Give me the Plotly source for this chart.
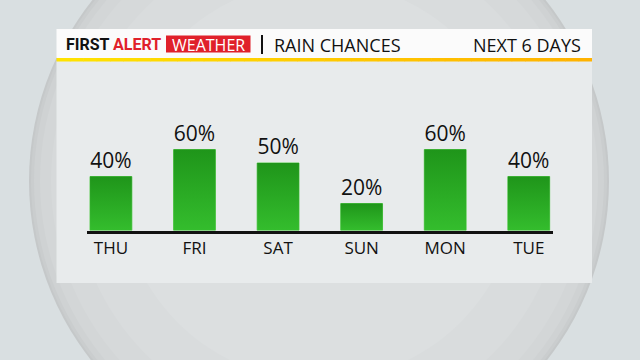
import plotly.graph_objects as go

# ---- data ----
days = ["THU", "FRI", "SAT", "SUN", "MON", "TUE"]
rain_chance = [40, 60, 50, 20, 60, 40]
labels = [f"{v}%" for v in rain_chance]
title_left = "RAIN CHANCES"
title_right = "NEXT 6 DAYS"

W, H = 640, 360
BAR_W = 0.5


def px(x):
    return x / W


def py(y):
    return 1 - y / H


shapes = []

# background sphere (layered circles for a soft edge shading)
cx, cy = 319, 181
for r, col in [(290, "#c5c8c9"), (288, "#cacdce"), (285, "#cfd2d3"),
               (279, "#d3d6d7"), (268, "#d6d9da"), (245, "#d9dcdd"), (200, "#dcdfe0")]:
    shapes.append(dict(type="circle", xref="paper", yref="paper",
                       x0=px(cx - r), x1=px(cx + r), y0=py(cy + r), y1=py(cy - r),
                       fillcolor=col, line=dict(width=0), layer="below"))

# panel body
shapes.append(dict(type="rect", xref="paper", yref="paper",
                   x0=px(56.5), x1=px(592), y0=py(283), y1=py(61),
                   fillcolor="#e8ebec", line=dict(width=0), layer="below"))
# header band
shapes.append(dict(type="rect", xref="paper", yref="paper",
                   x0=px(56.5), x1=px(592), y0=py(58), y1=py(29),
                   fillcolor="#fbfbfb", line=dict(width=0), layer="below"))
# yellow -> orange underline
n = 40
x_start, x_end = 56.5, 592
c0 = (255, 226, 0)
c1 = (255, 178, 0)
for i in range(n):
    t = i / (n - 1)
    col = "rgb(%d,%d,%d)" % tuple(round(a + (b - a) * t) for a, b in zip(c0, c1))
    xa = x_start + (x_end - x_start) * i / n
    xb = x_start + (x_end - x_start) * (i + 1) / n + 0.5
    shapes.append(dict(type="rect", xref="paper", yref="paper",
                       x0=px(xa), x1=px(min(xb, x_end)), y0=py(61.5), y1=py(58),
                       fillcolor=col, line=dict(width=0), layer="below"))
# red WEATHER box
shapes.append(dict(type="rect", xref="paper", yref="paper",
                   x0=px(166), x1=px(250.5), y0=py(52.5), y1=py(35.5),
                   fillcolor="#e0202a", line=dict(width=0), layer="below"))
# separator
shapes.append(dict(type="line", xref="paper", yref="paper",
                   x0=px(262), x1=px(262), y0=py(54), y1=py(35),
                   line=dict(color="#111111", width=2), layer="below"))

annotations = [
    dict(text="<b>FIRST <span style='color:#e0202a'>ALERT</span></b>",
         x=px(64), y=py(44.5), xref="paper", yref="paper", xanchor="left", yanchor="middle",
         showarrow=False, font=dict(family="Roboto", size=16, color="#111111")),
    dict(text="WEATHER", x=px(208.5), y=py(44.5), xref="paper", yref="paper",
         xanchor="center", yanchor="middle", showarrow=False,
         font=dict(family="Open Sans", size=16, color="#ffffff")),
    dict(text=title_left, x=px(272), y=py(45), xref="paper", yref="paper",
         xanchor="left", yanchor="middle", showarrow=False,
         font=dict(family="Open Sans", size=18, color="#111111")),
    dict(text=title_right, x=px(583), y=py(45), xref="paper", yref="paper",
         xanchor="right", yanchor="middle", showarrow=False,
         font=dict(family="Open Sans", size=18, color="#111111")),
]

fig = go.Figure()
xs = list(range(len(days)))

# gradient-filled bar bodies (one filled outline per bar, built from the data)
for i, v in zip(xs, rain_chance):
    x0, x1 = i - BAR_W / 2, i + BAR_W / 2
    fig.add_trace(go.Scatter(
        x=[x0, x1, x1, x0, x0], y=[0, 0, v, v, 0],
        mode="lines", fill="toself", line=dict(width=0, color="rgba(0,0,0,0)"),
        fillgradient=dict(type="vertical",
                          colorscale=[[0, "#34bd2d"], [1, "#1f951a"]]),
        hoverinfo="skip",
    ))

# bar trace: outline + value labels
fig.add_trace(go.Bar(
    x=xs, y=rain_chance, width=BAR_W,
    marker=dict(color="rgba(0,0,0,0)", line=dict(color="#5acb50", width=1)),
    text=labels, textposition="outside", cliponaxis=False,
    textfont=dict(family="Open Sans", size=21, color="#111111"),
    hoverinfo="skip",
))

fig.update_layout(
    width=W, height=H,
    margin=dict(l=0, r=0, t=0, b=0),
    paper_bgcolor="#d9dfe1",
    plot_bgcolor="rgba(0,0,0,0)",
    showlegend=False,
    shapes=shapes,
    annotations=annotations,
    xaxis=dict(domain=[px(86.7), px(553)], range=[-0.29, 5.29],
               tickvals=xs, ticktext=days,
               showline=True, linecolor="#111111", linewidth=3, ticks="",
               showgrid=False, zeroline=False,
               tickfont=dict(family="Open Sans", size=17, color="#111111")),
    yaxis=dict(domain=[py(230.5), py(95.5)], range=[0, 100], visible=False),
)

fig.write_html("out.html")
